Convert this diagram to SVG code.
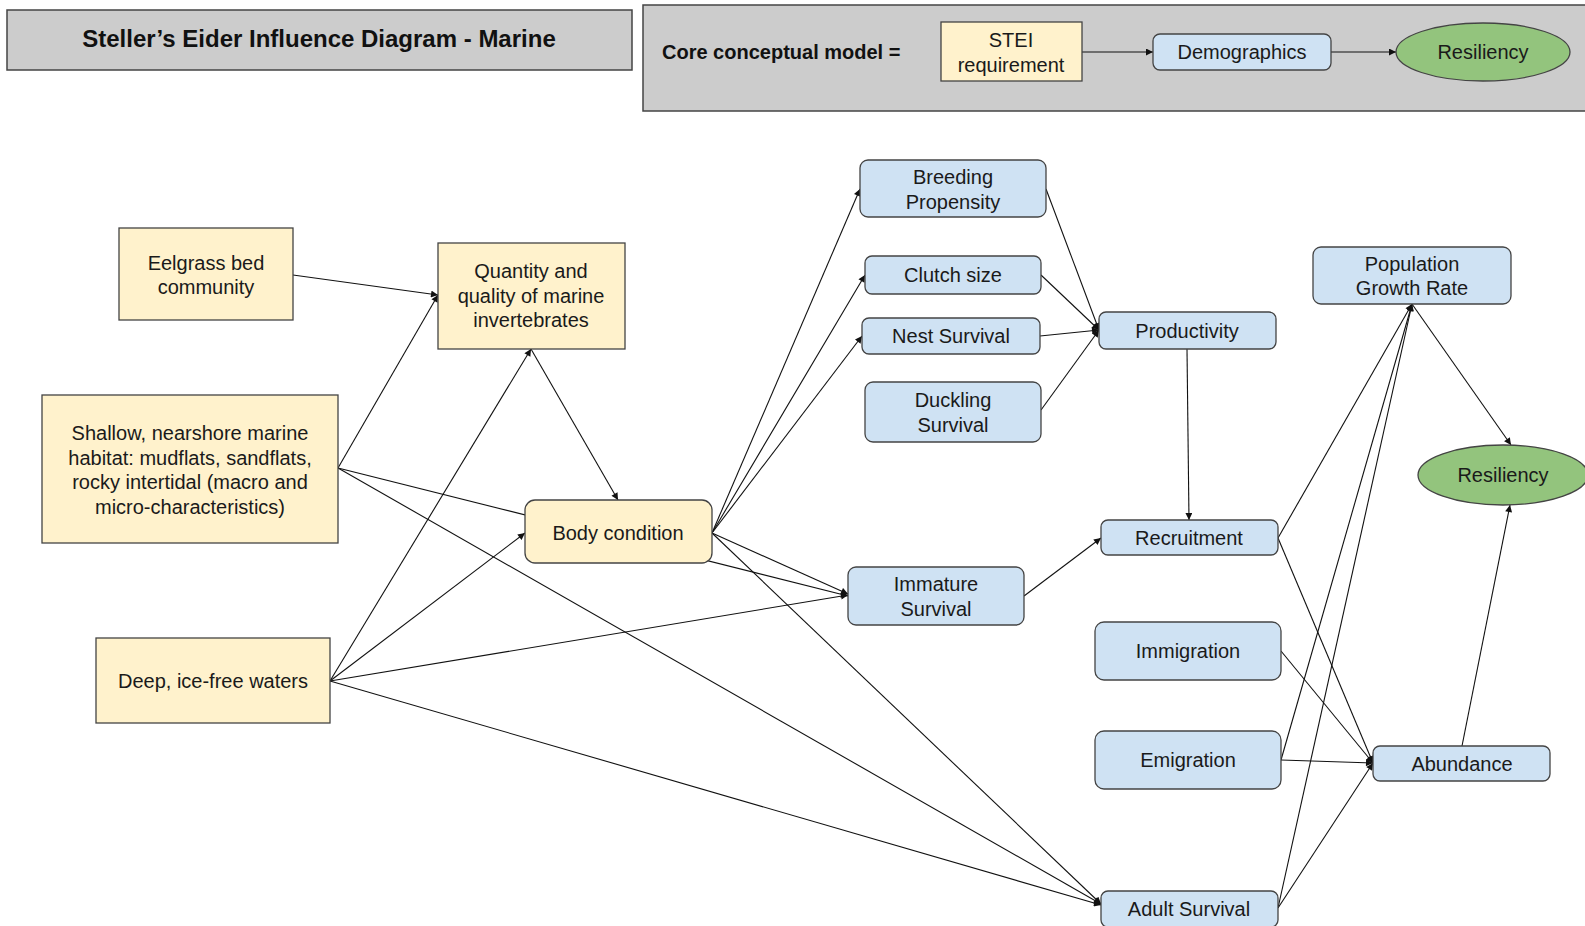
<svg xmlns="http://www.w3.org/2000/svg" width="1585" height="926" viewBox="0 0 1585 926">
<style>
text{font-family:"Liberation Sans",Arial,sans-serif;font-size:20px;fill:#1a1a1a;text-anchor:middle;dominant-baseline:central}
.t{font-weight:bold;font-size:24px;fill:#111}
.c{font-weight:bold;font-size:20px;fill:#111;text-anchor:start}
.hdr{fill:#cccccc;stroke:#444;stroke-width:1.5}
.y{fill:#fff2cc;stroke:#444;stroke-width:1.3}
.b{fill:#cfe2f3;stroke:#444;stroke-width:1.3}
.g{fill:#93c47d;stroke:#444;stroke-width:1.3}
.e line{stroke:#111;stroke-width:1.1;marker-end:url(#arr)}
</style>
<defs>
<marker id="arr" viewBox="0 0 10 10" refX="10" refY="5" markerWidth="8" markerHeight="7" orient="auto" markerUnits="userSpaceOnUse">
<path d="M0,0 L10,5 L0,10 z" fill="#111"/>
</marker>
</defs>
<rect width="1585" height="926" fill="#fff"/>
<g id="title"><rect class="hdr" x="7" y="10" width="625" height="60"/><text class="t" x="319" y="38">Steller’s Eider Influence Diagram - Marine</text></g>
<g id="core">
<rect class="hdr" x="643" y="5" width="950" height="106"/>
<text class="c" x="662" y="52">Core conceptual model =</text>
</g>
<g class="e" id="core-connectors">
<line x1="1082" y1="52" x2="1153" y2="52"/>
<line x1="1331" y1="52" x2="1396" y2="52"/>
</g>
<g id="core-stei"><rect class="y" x="941" y="22" width="141" height="59"/><text x="1011" y="40">STEI</text><text x="1011" y="65">requirement</text></g>
<g id="core-demo"><rect class="b" x="1153" y="34" width="178" height="36" rx="7"/><text x="1242" y="52">Demographics</text></g>
<g id="core-res"><ellipse class="g" cx="1483" cy="52" rx="87" ry="29"/><text x="1483" y="52">Resiliency</text></g>

<g class="e" id="connectors">
<line x1="293" y1="275" x2="438" y2="295"/>
<line x1="338" y1="468" x2="438" y2="295"/>
<line x1="338" y1="468" x2="848" y2="596"/>
<line x1="338" y1="468" x2="1101" y2="904"/>
<line x1="330" y1="681" x2="531" y2="349"/>
<line x1="330" y1="681" x2="525" y2="533"/>
<line x1="330" y1="681" x2="848" y2="595"/>
<line x1="330" y1="681" x2="1101" y2="905"/>
<line x1="531" y1="349" x2="618" y2="500"/>
<line x1="712" y1="533" x2="860" y2="189"/>
<line x1="712" y1="533" x2="865" y2="275"/>
<line x1="712" y1="533" x2="862" y2="336"/>
<line x1="712" y1="533" x2="848" y2="594"/>
<line x1="712" y1="533" x2="1101" y2="904"/>
<line x1="1046" y1="189" x2="1099" y2="330"/>
<line x1="1041" y1="275" x2="1099" y2="330"/>
<line x1="1040" y1="336" x2="1099" y2="330"/>
<line x1="1041" y1="410" x2="1099" y2="330"/>
<line x1="1187" y1="349" x2="1189" y2="520"/>
<line x1="1024" y1="596" x2="1101" y2="538"/>
<line x1="1278" y1="538" x2="1412" y2="304"/>
<line x1="1278" y1="538" x2="1373" y2="763"/>
<line x1="1281" y1="651" x2="1373" y2="763"/>
<line x1="1281" y1="760" x2="1412" y2="304"/>
<line x1="1281" y1="760" x2="1373" y2="763"/>
<line x1="1278" y1="908" x2="1412" y2="304"/>
<line x1="1278" y1="908" x2="1373" y2="763"/>
<line x1="1412" y1="304" x2="1511" y2="445"/>
<line x1="1462" y1="746" x2="1510" y2="505"/>
</g>

<g id="eelgrass"><rect class="y" x="119" y="228" width="174" height="92"/><text x="206" y="263">Eelgrass bed</text><text x="206" y="287">community</text></g>
<g id="quantity"><rect class="y" x="438" y="243" width="187" height="106"/><text x="531" y="271">Quantity and</text><text x="531" y="296">quality of marine</text><text x="531" y="320">invertebrates</text></g>
<g id="shallow"><rect class="y" x="42" y="395" width="296" height="148"/><text x="190" y="433">Shallow, nearshore marine</text><text x="190" y="458">habitat: mudflats, sandflats,</text><text x="190" y="482">rocky intertidal (macro and</text><text x="190" y="507">micro-characteristics)</text></g>
<g id="body"><rect class="y" x="525" y="500" width="187" height="63" rx="10"/><text x="618" y="533">Body condition</text></g>
<g id="deep"><rect class="y" x="96" y="638" width="234" height="85"/><text x="213" y="681">Deep, ice-free waters</text></g>

<g id="breeding"><rect class="b" x="860" y="160" width="186" height="57" rx="8"/><text x="953" y="177">Breeding</text><text x="953" y="202">Propensity</text></g>
<g id="clutch"><rect class="b" x="865" y="256" width="176" height="38" rx="7"/><text x="953" y="275">Clutch size</text></g>
<g id="nest"><rect class="b" x="862" y="318" width="178" height="36" rx="7"/><text x="951" y="336">Nest Survival</text></g>
<g id="duckling"><rect class="b" x="865" y="382" width="176" height="60" rx="8"/><text x="953" y="400">Duckling</text><text x="953" y="425">Survival</text></g>
<g id="productivity"><rect class="b" x="1099" y="312" width="177" height="37" rx="7"/><text x="1187" y="331">Productivity</text></g>
<g id="immature"><rect class="b" x="848" y="567" width="176" height="58" rx="8"/><text x="936" y="584">Immature</text><text x="936" y="609">Survival</text></g>
<g id="recruitment"><rect class="b" x="1101" y="520" width="177" height="35" rx="7"/><text x="1189" y="538">Recruitment</text></g>
<g id="immigration"><rect class="b" x="1095" y="622" width="186" height="58" rx="9"/><text x="1188" y="651">Immigration</text></g>
<g id="emigration"><rect class="b" x="1095" y="731" width="186" height="58" rx="9"/><text x="1188" y="760">Emigration</text></g>
<g id="adult"><rect class="b" x="1101" y="891" width="177" height="36" rx="7"/><text x="1189" y="909">Adult Survival</text></g>
<g id="growth"><rect class="b" x="1313" y="247" width="198" height="57" rx="8"/><text x="1412" y="264">Population</text><text x="1412" y="288">Growth Rate</text></g>
<g id="resiliency"><ellipse class="g" cx="1503" cy="475" rx="85" ry="30"/><text x="1503" y="475">Resiliency</text></g>
<g id="abundance"><rect class="b" x="1373" y="746" width="177" height="35" rx="7"/><text x="1462" y="764">Abundance</text></g>
</svg>
